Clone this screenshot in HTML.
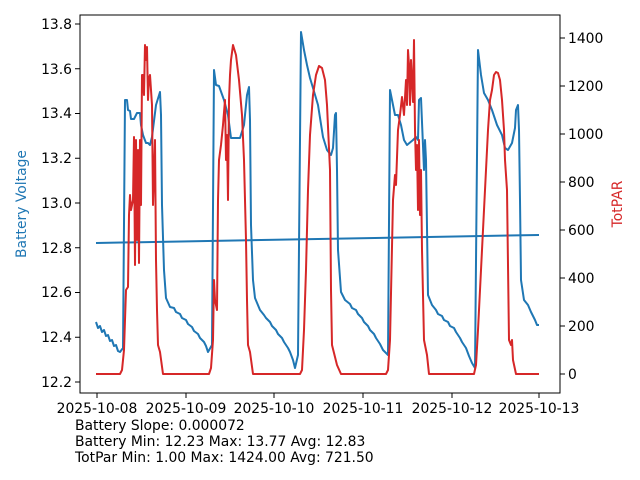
<!DOCTYPE html>
<html><head><meta charset="utf-8"><style>body{margin:0;background:#fff}svg{display:block}text{font-family:"DejaVu Sans","Liberation Sans",sans-serif;font-size:13.9px;fill:#000}</style></head><body>
<svg width="640" height="480" viewBox="0 0 640 480">
<g fill="none" stroke-width="2" stroke-linejoin="round">
<polyline stroke="#1f77b4" points="96,322 98,328 100,326 102,332 104,330 106,336 108,335 110,341 112,340 114,346 116,345 118,351 120,352 123,348 125,100 127,100 128,110 130,111 131,119 134,119 137,113 140,113 141,125 143,135 146,143 148,143 150,145 152,137 156,105 160,92 161,115 162,205 164,270 166,298 170,307 174,308 176,312 180,314 182,318 186,320 188,324 192,327 194,331 198,334 200,338 204,342 206,346 208,352 212,345 214,70 216,85 219,86 224,100 228,115 231,138 240,138 244,125 247,95 249,87 250,120 251,225 253,280 255,298 260,310 264,315 266,318 270,322 272,326 276,330 278,334 282,338 284,342 288,348 290,352 293,360 295,368 298,355 301,32 304,50 307,65 310,78 313,88 318,105 323,137 327,150 331,155 333,148 335,115 336,113 337,170 338,250 341,292 345,300 350,304 352,308 356,310 358,314 362,318 364,322 368,326 370,330 374,334 376,338 380,344 383,350 385,352 388,355 390,90 392,100 395,115 398,115 401,125 404,140 407,145 413,140 416,137 418,140 419,100 421,98 424,170 425,140 426,160 428,295 432,305 436,310 438,314 442,316 444,320 448,322 450,326 454,328 456,332 460,338 462,342 466,348 469,356 472,363 475,368 478,50 481,75 484,93 488,100 492,110 497,125 502,135 505,148 508,150 512,143 515,128 516,110 518,105 519,130 520,200 521,280 524,300 528,305 531,312 533,316 535,320 537,325 539,325"/>
<polyline stroke="#1f77b4" points="96,243 539,235"/>
<polyline stroke="#d62728" points="96,374 120,374 122,370 124,350 126,290 128,287 129,215 130,195 131,210 133,200 134,137 135,265 136,140 137,240 138,150 139,263 140,140 141,205 142,75 143,75 144,95 145,45 146,60 147,47 148,100 149,78 150,75 152,105 153,205 155,140 156,260 157,310 158,345 160,352 163,374 209,374 211,368 213,340 214,280 215,300 217,310 218,200 219,160 221,145 223,125 225,100 226,160 227,135 228,200 229,100 230,75 231,60 233,45 236,55 239,80 242,115 244,160 245,200 246,240 247,300 248,345 250,352 253,374 300,374 302,370 304,330 306,270 308,190 310,135 313,95 316,75 319,66 322,68 325,80 327,105 330,170 331,290 332,345 334,353 337,365 341,374 386,374 388,370 390,340 393,200 395,175 396,185 398,130 400,115 402,97 404,115 406,80 407,105 408,50 409,65 410,105 411,60 413,102 414,40 415,130 416,170 417,145 418,210 419,140 420,215 421,170 422,250 424,340 427,355 429,374 474,374 476,365 478,330 481,270 485,190 488,130 490,100 492,90 494,75 496,72 498,73 500,80 502,100 504,130 505,160 507,190 509,340 511,345 512,340 513,360 516,374 539,374"/>
</g>
<rect x="80" y="15" width="480" height="378" fill="none" stroke="#000" stroke-width="1"/>
<g stroke="#000" stroke-width="1">
<line x1="97" y1="393" x2="97" y2="398"/><line x1="186" y1="393" x2="186" y2="398"/><line x1="274" y1="393" x2="274" y2="398"/><line x1="363" y1="393" x2="363" y2="398"/><line x1="452" y1="393" x2="452" y2="398"/><line x1="539" y1="393" x2="539" y2="398"/>
<line x1="75" y1="382" x2="80" y2="382"/><line x1="75" y1="337.25" x2="80" y2="337.25"/><line x1="75" y1="292.5" x2="80" y2="292.5"/><line x1="75" y1="247.75" x2="80" y2="247.75"/><line x1="75" y1="203" x2="80" y2="203"/><line x1="75" y1="158.25" x2="80" y2="158.25"/><line x1="75" y1="113.5" x2="80" y2="113.5"/><line x1="75" y1="68.75" x2="80" y2="68.75"/><line x1="75" y1="24" x2="80" y2="24"/>
<line x1="560" y1="374" x2="565" y2="374"/><line x1="560" y1="326" x2="565" y2="326"/><line x1="560" y1="278" x2="565" y2="278"/><line x1="560" y1="230" x2="565" y2="230"/><line x1="560" y1="182" x2="565" y2="182"/><line x1="560" y1="134" x2="565" y2="134"/><line x1="560" y1="86" x2="565" y2="86"/><line x1="560" y1="38" x2="565" y2="38"/>
</g>
<g text-anchor="middle">
<text x="97" y="413">2025-10-08</text><text x="186" y="413">2025-10-09</text><text x="274" y="413">2025-10-10</text><text x="363" y="413">2025-10-11</text><text x="452" y="413">2025-10-12</text><text x="539" y="413">2025-10-13</text>
</g>
<g text-anchor="end">
<text x="72" y="387">12.2</text><text x="72" y="342">12.4</text><text x="72" y="297">12.6</text><text x="72" y="253">12.8</text><text x="72" y="208">13.0</text><text x="72" y="163">13.2</text><text x="72" y="118">13.4</text><text x="72" y="74">13.6</text><text x="72" y="29">13.8</text>
</g>
<g>
<text x="568" y="379">0</text><text x="568" y="331">200</text><text x="568" y="283">400</text><text x="568" y="235">600</text><text x="568" y="187">800</text><text x="568" y="139">1000</text><text x="568" y="91">1200</text><text x="568" y="43">1400</text>
</g>
<text transform="translate(26,204) rotate(-90)" text-anchor="middle" style="fill:#1f77b4">Battery Voltage</text>
<text transform="translate(622,204) rotate(-90)" text-anchor="middle" style="fill:#d62728">TotPAR</text>
<text x="75" y="430">Battery Slope: 0.000072</text>
<text x="75" y="446">Battery Min: 12.23 Max: 13.77 Avg: 12.83</text>
<text x="75" y="462">TotPar Min: 1.00 Max: 1424.00 Avg: 721.50</text>
</svg>
</body></html>
